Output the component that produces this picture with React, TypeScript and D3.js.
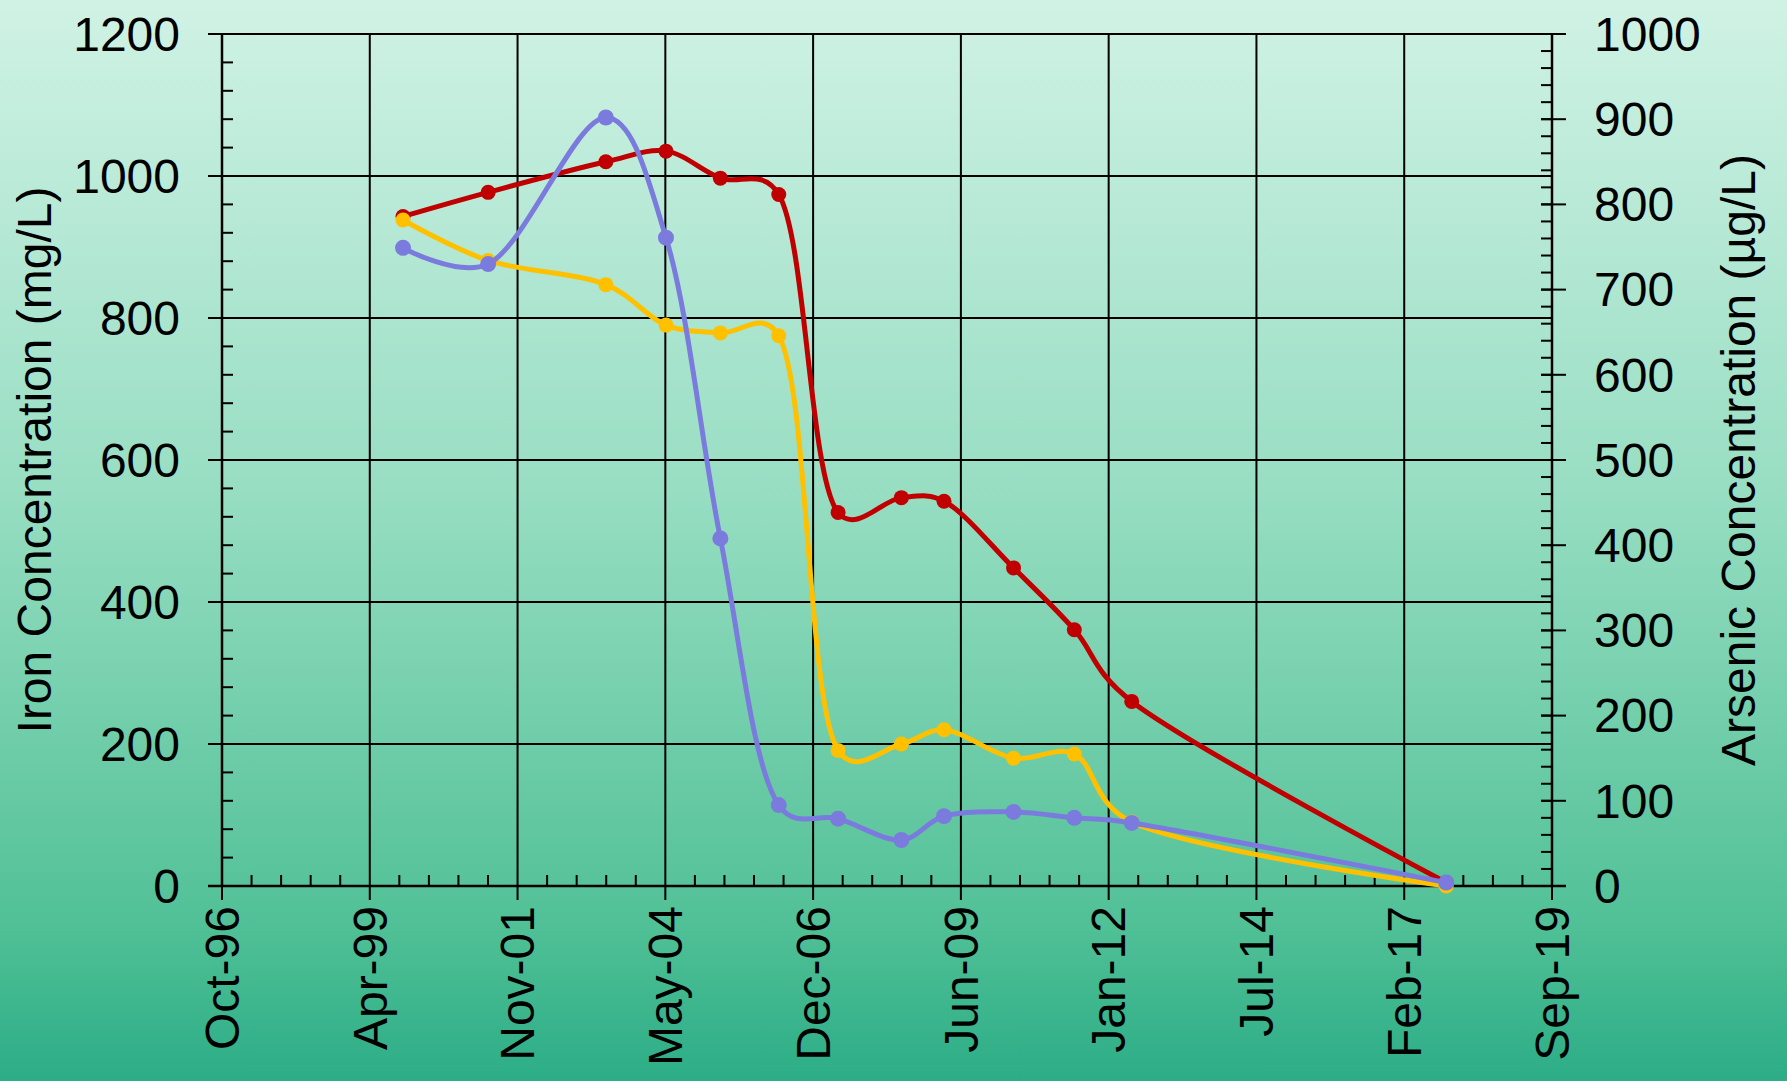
import { useEffect, useRef } from 'react';
import * as d3 from 'd3';

// sampling dates (same for all three series)
const sampleDates = [
  '1999-11-22', '2001-05-10', '2003-05-20', '2004-06-01', '2005-05-09',
  '2006-05-11', '2007-05-19', '2008-06-20', '2009-03-15', '2010-05-26',
  '2011-06-12', '2012-06-07', '2017-11-05',
];

// left axis (mg/L)
const ironRed = [943, 977, 1020, 1035, 997, 974, 526, 547, 542, 448, 361, 260, 5];
const ironYellow = [938, 881, 847, 790, 779, 775, 191, 200, 220, 180, 186, 90, 0];
// right axis (µg/L)
const arsenicPurple = [749, 730, 902, 761, 408, 95, 79, 54, 82, 87, 80, 74, 4];

const xDomain = ['1996-10-10', '2019-09-01'];
const xTickDates = [
  '1996-10-10', '1999-04-27', '2001-11-11', '2004-05-28', '2006-12-13',
  '2009-06-29', '2012-01-14', '2014-07-31', '2017-02-14', '2019-09-01',
];
const xTickLabels = [
  'Oct-96', 'Apr-99', 'Nov-01', 'May-04', 'Dec-06',
  'Jun-09', 'Jan-12', 'Jul-14', 'Feb-17', 'Sep-19',
];
const leftTicks = [0, 200, 400, 600, 800, 1000, 1200];
const rightTicks = [0, 100, 200, 300, 400, 500, 600, 700, 800, 900, 1000];

const W = 1787;
const H = 1081;
const FONT = '"Liberation Sans", Arial, sans-serif';

export default function App() {
  const svgRef = useRef<SVGSVGElement>(null);

  useEffect(() => {
    if (!svgRef.current) return;
    const svg = d3.select(svgRef.current);
    svg.selectAll('*').remove();

    const left = 222, right = 1552, top = 34, bottom = 886;
    const parse = (s: string) => new Date(s + 'T00:00:00Z');

    const x = d3.scaleUtc().domain(xDomain.map(parse)).range([left, right]);
    const yL = d3.scaleLinear().domain([0, 1200]).range([bottom, top]);
    const yR = d3.scaleLinear().domain([0, 1000]).range([bottom, top]);

    // background gradient
    const grad = svg.append('defs').append('linearGradient')
      .attr('id', 'bg').attr('x1', 0).attr('y1', 0).attr('x2', 0).attr('y2', 1);
    grad.append('stop').attr('offset', '0%').attr('stop-color', '#d0f2e5');
    grad.append('stop').attr('offset', '45%').attr('stop-color', '#98dec3');
    grad.append('stop').attr('offset', '85%').attr('stop-color', '#52c197');
    grad.append('stop').attr('offset', '100%').attr('stop-color', '#2cad86');
    svg.append('rect').attr('width', W).attr('height', H).attr('fill', 'url(#bg)');

    const g = svg.append('g').attr('stroke', '#000');

    // minor ticks
    const xMajors = xTickDates.map((d) => x(parse(d)));
    for (let i = 0; i < xMajors.length - 1; i++) {
      const step = (xMajors[i + 1] - xMajors[i]) / 5;
      for (let k = 1; k < 5; k++) {
        const px = xMajors[i] + k * step;
        g.append('line').attr('x1', px).attr('x2', px).attr('y1', bottom - 11).attr('y2', bottom).attr('stroke-width', 2);
      }
    }
    d3.range(0, 1201, 40).forEach((v) => {
      g.append('line').attr('x1', left).attr('x2', left + 11).attr('y1', yL(v)).attr('y2', yL(v)).attr('stroke-width', 2);
    });
    d3.range(0, 1001, 20).forEach((v) => {
      g.append('line').attr('x1', right - 11).attr('x2', right).attr('y1', yR(v)).attr('y2', yR(v)).attr('stroke-width', 2);
    });

    // grid + major ticks
    xMajors.forEach((px) => {
      g.append('line').attr('x1', px).attr('x2', px).attr('y1', top).attr('y2', bottom + 14).attr('stroke-width', 2);
    });
    leftTicks.forEach((v) => {
      g.append('line').attr('x1', left - 14).attr('x2', right).attr('y1', yL(v)).attr('y2', yL(v)).attr('stroke-width', 2);
    });
    rightTicks.forEach((v) => {
      g.append('line').attr('x1', right - 11).attr('x2', right + 14).attr('y1', yR(v)).attr('y2', yR(v)).attr('stroke-width', 2);
    });

    // axis lines
    g.append('line').attr('x1', left).attr('x2', left).attr('y1', top).attr('y2', bottom).attr('stroke-width', 2.5);
    g.append('line').attr('x1', right).attr('x2', right).attr('y1', top).attr('y2', bottom).attr('stroke-width', 2.5);
    g.append('line').attr('x1', left - 14).attr('x2', right + 14).attr('y1', bottom).attr('y2', bottom).attr('stroke-width', 2.5);

    // tick labels
    const txt = svg.append('g').attr('font-family', FONT).attr('font-size', 48).attr('fill', '#000');
    leftTicks.forEach((v) => {
      txt.append('text').attr('x', 180).attr('y', yL(v)).attr('dy', '0.35em')
        .attr('text-anchor', 'end').text(v);
    });
    rightTicks.forEach((v) => {
      txt.append('text').attr('x', 1594).attr('y', yR(v)).attr('dy', '0.35em')
        .attr('text-anchor', 'start').text(v);
    });
    xTickLabels.forEach((lab, i) => {
      txt.append('text')
        .attr('transform', `translate(${xMajors[i]},906) rotate(-90)`)
        .attr('dy', '0.35em').attr('text-anchor', 'end').text(lab);
    });

    // axis titles
    txt.append('text').attr('transform', `translate(34,${(top + bottom) / 2}) rotate(-90)`)
      .attr('dy', '0.35em').attr('text-anchor', 'middle').text('Iron Concentration (mg/L)');
    txt.append('text').attr('transform', `translate(1738,${(top + bottom) / 2}) rotate(-90)`)
      .attr('dy', '0.35em').attr('text-anchor', 'middle').text('Arsenic Concentration (µg/L)');

    // series
    const series = [
      { values: ironRed, y: yL, color: '#c00000', r: 7.5 },
      { values: ironYellow, y: yL, color: '#ffc000', r: 7.5 },
      { values: arsenicPurple, y: yR, color: '#7b7bde', r: 8 },
    ];
    series.forEach((s) => {
      const pts = s.values.map((v, i) => [x(parse(sampleDates[i])), s.y(v)] as [number, number]);
      const line = d3.line().curve(d3.curveCatmullRom.alpha(0.3));
      svg.append('path').attr('d', line(pts)).attr('fill', 'none')
        .attr('stroke', s.color).attr('stroke-width', 5).attr('stroke-linejoin', 'round');
      svg.append('g').selectAll('circle').data(pts).join('circle')
        .attr('cx', (d) => d[0]).attr('cy', (d) => d[1]).attr('r', s.r).attr('fill', s.color);
    });
  }, []);

  return (
    <svg
      ref={svgRef}
      width={W}
      height={H}
      style={{ position: 'absolute', left: 0, top: 0, display: 'block' }}
    />
  );
}
